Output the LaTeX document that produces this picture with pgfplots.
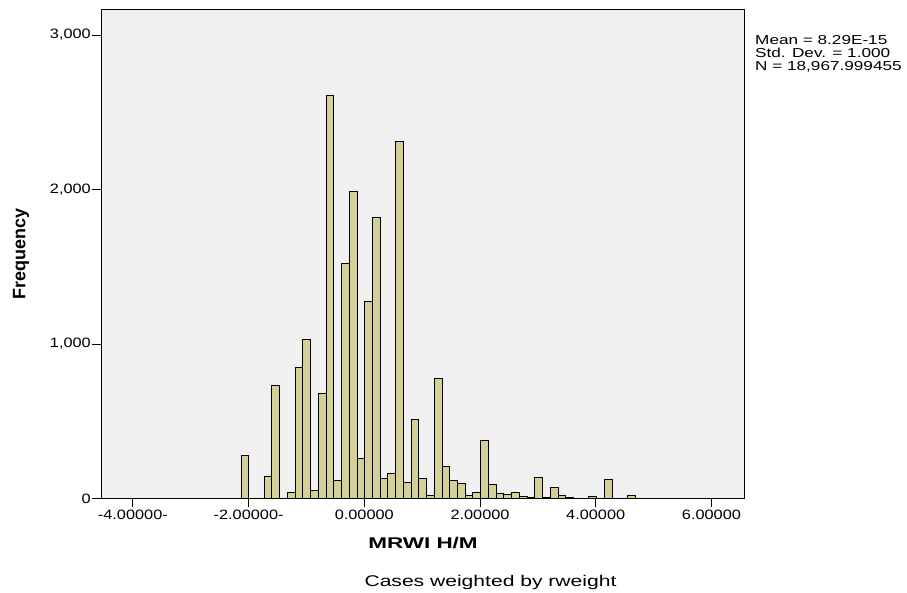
\documentclass[border=0pt]{standalone}
\usepackage{fontspec}
\setmainfont{Liberation Sans}
\usepackage{graphicx}
\usepackage{pgfplots}
\pgfplotsset{compat=1.18}
\definecolor{barfill}{RGB}{212,207,152}
\definecolor{bgc}{RGB}{240,240,240}
\newcommand{\sx}[1]{\scalebox{1.2}[1]{#1}}
\begin{document}
\begin{tikzpicture}[x=1bp,y=1bp]
\useasboundingbox (0,0) rectangle (907,593);
\begin{axis}[
  at={(101bp,94.5bp)}, anchor=south west,
  scale only axis, width=643bp, height=488.8bp,
  xmin=-4.551, xmax=6.563, ymin=0, ymax=3164,
  axis background/.style={fill=bgc},
  axis line style={black, line width=0.9bp},
  tick align=outside, xtick pos=bottom, ytick pos=left,
  major tick length=9bp,
  tick style={black, line width=0.9bp},
  xtick={-4,-2,0,2,4,6},
  xticklabels={\sx{-4.00000-},\sx{-2.00000-},\sx{0.00000},\sx{2.00000},\sx{4.00000},\sx{6.00000}},
  ytick={0,1000,2000,3000},
  yticklabels={\sx{0},\sx{1,000},\sx{2,000},\sx{3,000}},
  tick label style={font=\fontsize{13.6bp}{15bp}\selectfont},
  yticklabel style={inner sep=1bp},
  xticklabel style={inner sep=2bp},
  clip=false,
]
\addplot[ybar interval, fill=barfill, draw=black, line width=0.9bp] table {
x y
-2.131 280
-1.998 0
-1.864 0
-1.730 144
-1.597 731
-1.463 0
-1.330 39
-1.196 848
-1.062 1027
-0.929 52
-0.795 677
-0.661 2608
-0.528 116
-0.394 1523
-0.261 1989
-0.127 256
0.007 1273
0.140 1816
0.274 129
0.407 162
0.541 2313
0.675 103
0.808 509
0.942 127
1.075 21
1.209 774
1.343 207
1.476 114
1.610 95
1.743 21
1.877 36
2.011 373
2.144 88
2.278 32
2.411 28
2.545 36
2.679 15
2.812 7
2.946 136
3.079 5
3.213 71
3.347 18
3.480 8
3.614 3
3.747 3
3.881 13
4.015 0
4.148 123
4.282 0
4.415 0
4.549 17
4.682 0
4.816 0
4.950 0
5.083 2
5.217 0
};
\end{axis}
\node[rotate=90, font=\fontsize{18bp}{20bp}\selectfont\bfseries] at (21,339) {Frequency};
\node[anchor=base, font=\fontsize{15.5bp}{18bp}\selectfont\bfseries, inner sep=0pt] at (423,44) {\scalebox{1.45}[1]{MRWI H/M}};
\node[anchor=base, font=\fontsize{15.5bp}{18bp}\selectfont, inner sep=0pt] at (490.5,6.3) {\scalebox{1.36}[1]{Cases weighted by rweight}};
\node[anchor=base west, font=\fontsize{13bp}{13bp}\selectfont, inner sep=0pt] at (755,548.5) {\scalebox{1.32}[1]{Mean = 8.29E-15}};
\node[anchor=base west, font=\fontsize{13bp}{13bp}\selectfont, inner sep=0pt] at (755,535.5) {\scalebox{1.32}[1]{Std. Dev. = 1.000}};
\node[anchor=base west, font=\fontsize{13bp}{13bp}\selectfont, inner sep=0pt] at (755,522.5) {\scalebox{1.32}[1]{N = 18,967.999455}};
\end{tikzpicture}
\end{document}
